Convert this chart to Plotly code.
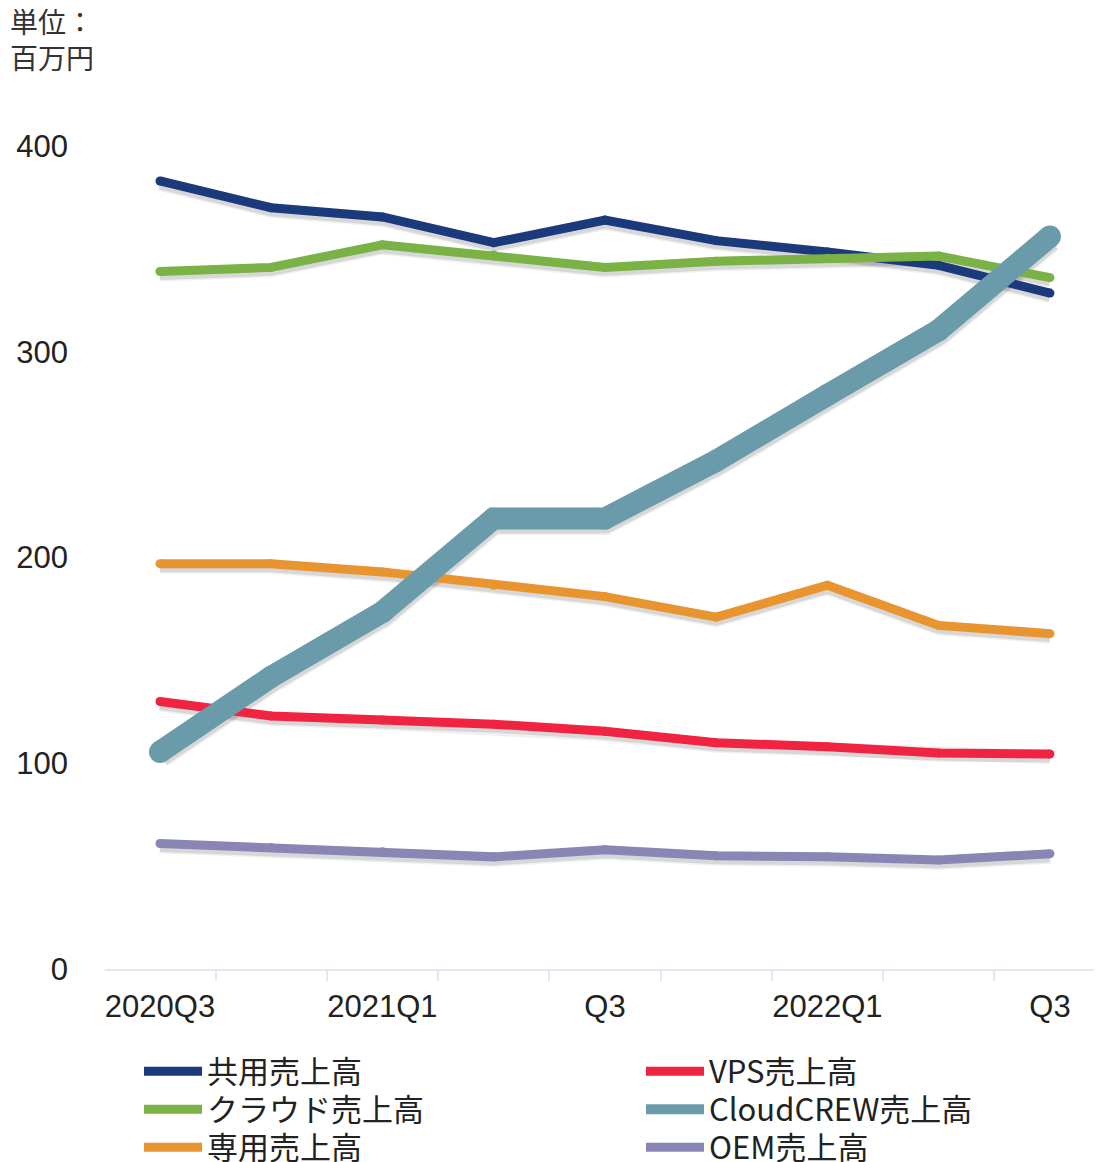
import plotly.graph_objects as go

quarters = ["2020Q3", "2020Q4", "2021Q1", "2021Q2", "2021Q3", "2021Q4", "2022Q1", "2022Q2", "2022Q3"]
tick_labels = ["2020Q3", "", "2021Q1", "", "Q3", "", "2022Q1", "", "Q3"]

shared = [383, 370, 365.5, 353, 364, 354, 348.5, 342, 328.5]
cloud = [339, 341, 352, 347, 341, 344, 345.5, 346.5, 336]
dedicated = [197, 197, 193, 186.5, 181, 171, 186.5, 167, 163]
vps = [130, 123, 121, 119, 115.5, 110, 108, 105, 104.5]
cloudcrew = [105.5, 142, 173.5, 219, 219, 247, 279, 310.5, 356]
oem = [61, 59, 57, 54.5, 58, 55, 54.5, 53, 56]

W, H = 1094, 1154  # page body adds an 8px margin
PLOT_H = 823
Y_MAX = 400
SHADOW_PX = 3  # drop-shadow offset in pixels

# name, values, color, width, legend id, legend column, legend row
series = [
    ("共用売上高", shared, "#1a3a7b", 9, "legend", 0, 0),
    ("クラウド売上高", cloud, "#7ab245", 9, "legend2", 0, 1),
    ("専用売上高", dedicated, "#e89530", 9, "legend3", 0, 2),
    ("VPS売上高", vps, "#f02441", 9, "legend4", 1, 0),
    ("OEM売上高", oem, "#8986b6", 9, "legend5", 1, 2),
    ("CloudCREW売上高", cloudcrew, "#6a9bab", 22, "legend6", 1, 1),
]

col_x = [131, 633]
row_center = [1063, 1101, 1139]
legend_font = 31

fig = go.Figure()

# soft drop shadows on the bottom (shifted) axis
for name, vals, color, w, leg, col, row in series:
    for extra, alpha in ((5, 0.06), (2, 0.10)):
        fig.add_trace(go.Scatter(
            x=quarters, y=vals, mode="lines", showlegend=False,
            line=dict(color=f"rgba(0,0,0,{alpha})", width=w + extra),
            hoverinfo="skip", yaxis="y",
        ))

legends = {}
for name, vals, color, w, leg, col, row in series:
    fig.add_trace(go.Scatter(
        x=quarters, y=vals, mode="lines", name=name,
        line=dict(color=color, width=w),
        legend=leg, yaxis="y2",
    ))
    fig.add_trace(go.Scatter(
        x=quarters, y=vals, mode="markers", showlegend=False,
        marker=dict(color=color, size=w, line=dict(width=0)),
        hoverinfo="skip", yaxis="y2",
    ))
    legends[leg] = dict(
        orientation="v",
        xref="container", yref="container",
        xanchor="left", yanchor="top",
        x=col_x[col] / W, y=1 - (row_center[row] - 26.5) / H,
        itemwidth=58,
        font=dict(family="Noto Sans CJK JP", size=legend_font, color="#222222"),
        bgcolor="rgba(0,0,0,0)",
    )

shift = SHADOW_PX / PLOT_H * Y_MAX

fig.update_layout(
    width=W, height=H,
    margin=dict(l=97, r=0, t=138, b=193, autoexpand=False),
    plot_bgcolor="white", paper_bgcolor="white",
    font=dict(family="Liberation Sans, Arial, sans-serif", color="#222222"),
    annotations=[dict(
        text="単位：<br>百万円", xref="paper", yref="paper",
        x=-97 / 997, y=1 + 147 / 823, xanchor="left", yanchor="top",
        showarrow=False, align="left",
        font=dict(family="Noto Sans CJK JP", size=28, color="#333333"),
    )],
    yaxis=dict(
        range=[shift, Y_MAX + shift], showticklabels=False,
        showgrid=False, zeroline=False, showline=False, automargin=False, ticks="",
    ),
    yaxis2=dict(
        range=[0, Y_MAX], tickvals=[0, 100, 200, 300, 400],
        overlaying="y", side="left",
        showgrid=False, zeroline=False, showline=False, automargin=False,
        ticks="", ticklabelstandoff=36,
        tickfont=dict(size=31, color="#222222"),
    ),
    **legends,
)

fig.update_xaxes(
    type="category", range=[-0.494, 8.468],
    tickmode="array", tickvals=quarters, ticktext=tick_labels,
    tickson="boundaries", ticks="outside", ticklen=10, tickcolor="#e3e9f3", tickwidth=2,
    showline=True, linecolor="#e3e9f3", linewidth=2,
    showgrid=False, zeroline=False, automargin=False, tickangle=0,
    ticklabelstandoff=9,
    tickfont=dict(size=31, color="#222222"),
)

fig.write_html("out.html")
